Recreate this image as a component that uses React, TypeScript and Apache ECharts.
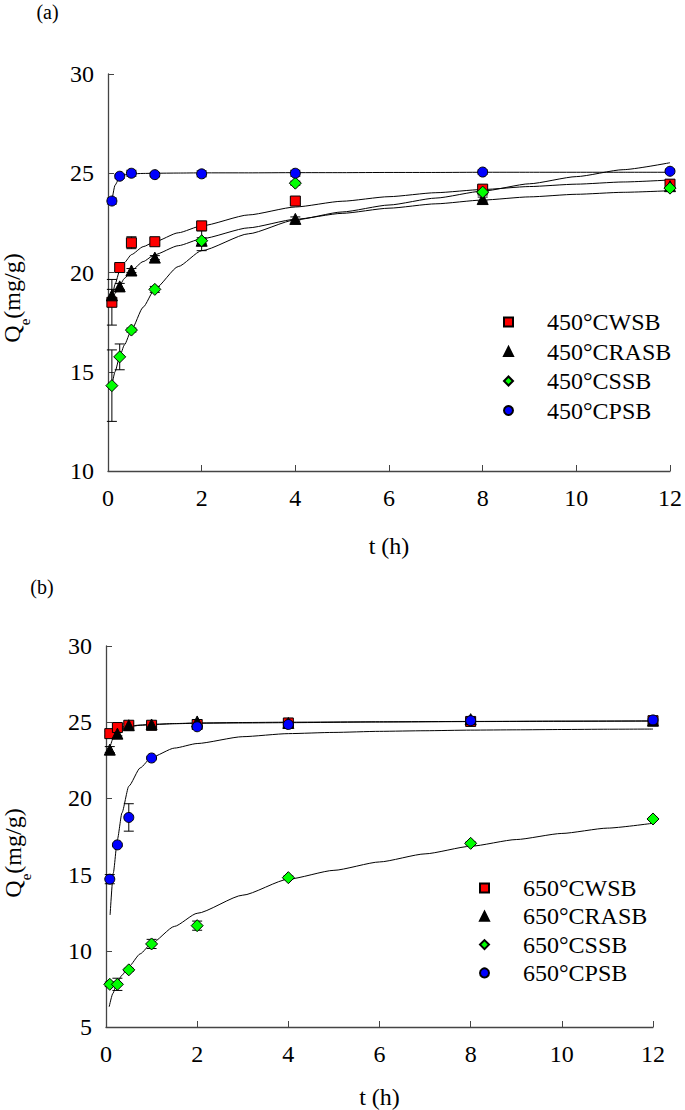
import React, { useEffect, useRef } from "react";
import * as echarts from "echarts";

const FONT = "'Liberation Serif', 'Times New Roman', serif";

// sampling times (h)
const T = [0.083, 0.25, 0.5, 1, 2, 4, 8, 12];
const xTicks = [0, 2, 4, 6, 8, 10, 12];

// ---- panel (a) 450°C ----
const namesA = ["450°CWSB", "450°CRASB", "450°CSSB", "450°CPSB"];
const wsbA = [18.5, 20.25, 21.5, 21.55, 22.35, 23.6, 24.2, 24.45];
const wsbAErr = [1.15, 0.15, 0.3, 0.15, 0.15, 0.15, 0.15, 0.15];
const rasbA = [18.85, 19.3, 20.1, 20.75, 21.6, 22.7, 23.7, 24.35];
const rasbAErr = [0.3, 0.15, 0.1, 0.1, 0.15, 0.1, 0.1, 0.1];
const ssbA = [14.3, 15.75, 17.1, 19.15, 21.6, 24.5, 24.05, 24.25];
const ssbAErr = [1.8, 0.65, 0.1, 0.15, 0.5, 0.1, 0.15, 0.1];
const psbA = [23.6, 24.85, 25.0, 24.93, 24.97, 25.0, 25.06, 25.1];
const psbAErr = [0.15, 0.1, 0.15, 0.1, 0.15, 0.15, 0.1, 0.1];

// fitted curves (a)
const fitTA = [0.083, 0.15, 0.25, 0.35, 0.5, 0.75, 1, 1.5, 2, 3, 4, 5, 6, 7, 8, 9, 10, 11, 12];
const fitWsbA = [18.6, 19.4, 20.1, 20.5, 20.9, 21.3, 21.55, 22.0, 22.35, 22.9, 23.3, 23.59, 23.82, 24.02, 24.18, 24.33, 24.45, 24.56, 24.66];
const fitRasbA = [18.6, 18.95, 19.35, 19.7, 20.1, 20.55, 20.9, 21.35, 21.7, 22.25, 22.68, 22.98, 23.24, 23.46, 23.65, 23.81, 23.94, 24.04, 24.12];
const fitSsbA = [14.3, 15.0, 15.77, 16.35, 17.1, 18.25, 19.17, 20.3, 21.1, 21.95, 22.65, 23.05, 23.4, 23.75, 24.1, 24.47, 24.83, 25.18, 25.53];
const fitPsbA = [23.6, 24.4, 24.8, 24.92, 24.97, 24.99, 25.0, 25.01, 25.02, 25.02, 25.03, 25.03, 25.04, 25.04, 25.05, 25.05, 25.05, 25.05, 25.05];

// ---- panel (b) 650°C ----
const namesB = ["650°CWSB", "650°CRASB", "650°CSSB", "650°CPSB"];
const wsbB = [24.25, 24.65, 24.8, 24.8, 24.85, 24.95, 25.05, 25.1];
const wsbBErr = [0.15, 0.1, 0.1, 0.1, 0.1, 0.15, 0.15, 0.1];
const rasbB = [23.2, 24.25, 24.8, 24.85, 25.05, 24.95, 25.2, 25.1];
const rasbBErr = [0.2, 0.15, 0.1, 0.1, 0.1, 0.1, 0.1, 0.1];
const ssbB = [7.8, 7.8, 8.75, 10.45, 11.65, 14.8, 17.05, 18.65];
const ssbBErr = [0.15, 0.4, 0.1, 0.3, 0.3, 0.1, 0.1, 0.1];
const psbB = [14.7, 16.95, 18.75, 22.65, 24.7, 24.85, 25.1, 25.15];
const psbBErr = [0.3, 0.1, 0.9, 0.1, 0.1, 0.1, 0.1, 0.1];

// fitted curves (b)
const fitTWsbB = [0.083, 0.15, 0.25, 0.35, 0.5, 0.75, 1, 1.5, 2, 3, 4, 6, 8, 10, 12];
const fitWsbB = [24.2, 24.45, 24.6, 24.68, 24.75, 24.81, 24.85, 24.9, 24.93, 24.95, 24.97, 25.01, 25.04, 25.06, 25.08];
const fitTRasbB = [0.083, 0.15, 0.25, 0.35, 0.5, 0.75, 1, 1.5, 2, 3, 4, 6, 8, 10, 12];
const fitRasbB = [23.3, 23.9, 24.35, 24.55, 24.7, 24.8, 24.85, 24.91, 24.95, 24.98, 25.0, 25.03, 25.05, 25.07, 25.08];
const fitTSsbB = [0.07, 0.15, 0.25, 0.35, 0.5, 0.75, 1, 1.5, 2, 3, 4, 5, 6, 7, 8, 9, 10, 11, 12];
const fitSsbB = [6.33, 7.2, 7.95, 8.4, 8.96, 9.8, 10.49, 11.6, 12.46, 13.65, 14.7, 15.28, 15.83, 16.36, 16.86, 17.3, 17.7, 18.05, 18.37];
const fitTPsbB = [0.09, 0.16, 0.25, 0.35, 0.5, 0.75, 1, 1.5, 2, 3, 4, 5, 6, 7, 8, 9, 10, 11, 12];
const fitPsbB = [12.35, 15.1, 17.3, 19.05, 20.8, 22.0, 22.7, 23.3, 23.6, 24.05, 24.25, 24.33, 24.4, 24.44, 24.48, 24.5, 24.52, 24.54, 24.55];

const colors = ["#ff0000", "#000000", "#00ff00", "#0000ff"];
const symbols = ["rect", "triangle", "diamond", "circle"];
const sizes = [10, 11, 12, 10];

const zip = (xs: number[], ys: number[]) => xs.map((x, i) => [x, ys[i]]);

function pointSeries(name: string, k: number, vals: number[], errs: number[], idx: number) {
  const err = {
    type: "custom",
    xAxisIndex: idx,
    yAxisIndex: idx,
    silent: true,
    z: 3,
    data: T.map((t, i) => [t, vals[i] - errs[i], vals[i] + errs[i]]),
    encode: { x: 0, y: [1, 2] },
    renderItem: (_p: any, api: any) => {
      const x = api.value(0);
      const lo = api.coord([x, api.value(1)]);
      const hi = api.coord([x, api.value(2)]);
      const w = 5;
      const st = { stroke: "#000", lineWidth: 1 };
      return {
        type: "group",
        children: [
          { type: "line", shape: { x1: lo[0], y1: lo[1], x2: hi[0], y2: hi[1] }, style: st },
          { type: "line", shape: { x1: lo[0] - w, y1: lo[1], x2: lo[0] + w, y2: lo[1] }, style: st },
          { type: "line", shape: { x1: hi[0] - w, y1: hi[1], x2: hi[0] + w, y2: hi[1] }, style: st },
        ],
      };
    },
  };
  const sc = {
    type: "scatter",
    name,
    xAxisIndex: idx,
    yAxisIndex: idx,
    z: 4,
    symbol: symbols[k],
    symbolSize: sizes[k],
    data: zip(T, vals),
    itemStyle: { color: colors[k], borderColor: "#000", borderWidth: 1, opacity: 1 },
  };
  return [err, sc];
}

function fitSeries(ts: number[], vals: number[], idx: number) {
  return {
    type: "line",
    xAxisIndex: idx,
    yAxisIndex: idx,
    z: 2,
    silent: true,
    smooth: 0.2,
    smoothMonotone: "x",
    symbol: "none",
    data: zip(ts, vals),
    lineStyle: { color: "#000", width: 1 },
  };
}

const axisColor = "#444";
const tickFont = { fontFamily: FONT, fontSize: 24, color: "#000" };

function xAxis(idx: number, gap: number) {
  return {
    type: "value",
    gridIndex: idx,
    min: 0,
    max: 12,
    interval: 2,
    name: "t (h)",
    nameLocation: "middle",
    nameGap: gap,
    nameTextStyle: { fontFamily: FONT, fontSize: 24, color: "#000" },
    axisLine: { show: true, lineStyle: { color: axisColor, width: 1.3 } },
    axisTick: { show: true, inside: true, length: 6, lineStyle: { color: axisColor } },
    axisLabel: { ...tickFont, margin: 15, formatter: (v: number) => (xTicks.includes(v) ? String(v) : "") },
    splitLine: { show: false },
  };
}

function yAxis(idx: number, min: number) {
  return {
    type: "value",
    gridIndex: idx,
    min,
    max: 30,
    interval: 5,
    axisLine: { show: true, lineStyle: { color: axisColor, width: 1.3 } },
    axisTick: { show: true, inside: true, length: 6, lineStyle: { color: axisColor } },
    axisLabel: { ...tickFont, margin: 14 },
    splitLine: { show: false },
  };
}

function legend(names: string[], left: number, top: number, gap: number) {
  return {
    orient: "vertical",
    left,
    top,
    itemGap: gap,
    itemWidth: 9,
    itemHeight: 9,
    data: names,
    selectedMode: false,
    textStyle: { fontFamily: FONT, fontSize: 24, color: "#000", padding: [0, 0, 0, 29] },
  };
}

function yTitle(x: number, y: number) {
  return {
    type: "text",
    x,
    y,
    rotation: Math.PI / 2,
    style: {
      text: "{a|Q}{b|e}{a|(mg/g)}",
      align: "center",
      verticalAlign: "middle",
      rich: {
        a: { fontFamily: FONT, fontSize: 24, lineHeight: 40, fill: "#000" },
        b: { fontFamily: FONT, fontSize: 15, lineHeight: 30, verticalAlign: "bottom", fill: "#000" },
      },
    },
  };
}

export default function App() {
  const ref = useRef<HTMLDivElement>(null);
  useEffect(() => {
    document.body.style.margin = "0";
    const chart = echarts.init(ref.current!, null, { renderer: "svg" });
    const valsA = [wsbA, rasbA, ssbA, psbA];
    const errsA = [wsbAErr, rasbAErr, ssbAErr, psbAErr];
    const valsB = [wsbB, rasbB, ssbB, psbB];
    const errsB = [wsbBErr, rasbBErr, ssbBErr, psbBErr];
    const series: any[] = [
      fitSeries(fitTA, fitWsbA, 0),
      fitSeries(fitTA, fitRasbA, 0),
      fitSeries(fitTA, fitSsbA, 0),
      fitSeries(fitTA, fitPsbA, 0),
      fitSeries(fitTWsbB, fitWsbB, 1),
      fitSeries(fitTRasbB, fitRasbB, 1),
      fitSeries(fitTSsbB, fitSsbB, 1),
      fitSeries(fitTPsbB, fitPsbB, 1),
    ];
    for (let k = 0; k < 4; k++) series.push(...pointSeries(namesA[k], k, valsA[k], errsA[k], 0));
    for (let k = 0; k < 4; k++) series.push(...pointSeries(namesB[k], k, valsB[k], errsB[k], 1));

    chart.setOption({
      animation: false,
      backgroundColor: "#fff",
      textStyle: { fontFamily: FONT },
      grid: [
        { left: 108, top: 74, width: 565, height: 397 },
        { left: 106, top: 646, width: 547, height: 381 },
      ],
      xAxis: [xAxis(0, 63), xAxis(1, 58)],
      yAxis: [yAxis(0, 10), yAxis(1, 5)],
      legend: [legend(namesA, 498, 305, 5.5), legend(namesB, 474, 871, 4.3)],
      graphic: [
        { type: "text", x: 47.5, y: 12, style: { text: "(a)", fontFamily: FONT, fontSize: 20, fill: "#000", align: "center", verticalAlign: "middle" } },
        { type: "text", x: 42, y: 587, style: { text: "(b)", fontFamily: FONT, fontSize: 20, fill: "#000", align: "center", verticalAlign: "middle" } },
        yTitle(12, 298),
        yTitle(13, 853),
      ],
      series,
    });
    return () => chart.dispose();
  }, []);
  return <div ref={ref} style={{ width: 685, height: 1110 }} />;
}
